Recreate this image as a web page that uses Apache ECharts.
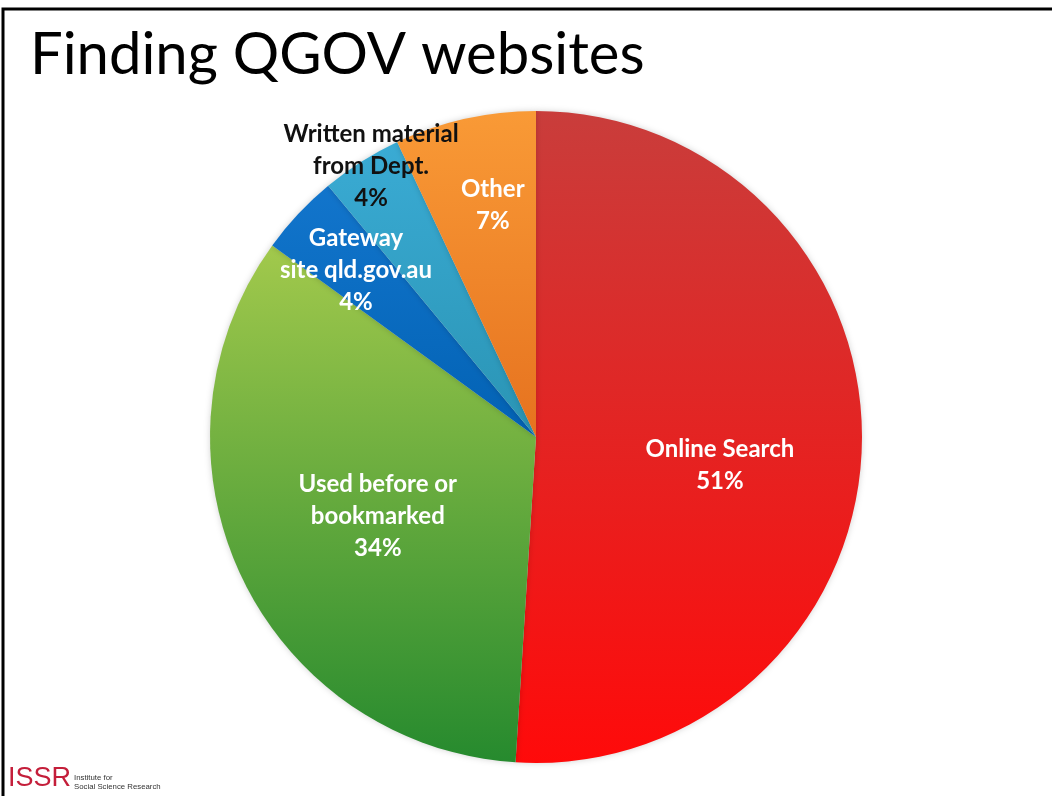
<!DOCTYPE html>
<html>
<head>
<meta charset="utf-8">
<script src="https://cdn.jsdelivr.net/npm/echarts@6/dist/echarts.min.js"></script>
<style>
  html, body { margin: 0; padding: 0; background: #fff; }
  #chart { width: 1052px; height: 796px; }
</style>
</head>
<body>
<div id="chart"></div>
<script>
// How visitors find QGOV websites (share of respondents, %)
const categories = [
  'Online Search',
  'Used before or\nbookmarked',
  'Gateway\nsite qld.gov.au',
  'Written material\nfrom Dept.',
  'Other'
];
const shares = [51, 34, 4, 4, 7];

// Slice fills: vertical gradient, top colour then bottom colour
const sliceColors = [
  ['#c93d3b', '#ff0a0a'],
  ['#a2c94c', '#268a2e'],
  ['#1275cc', '#0262b4'],
  ['#3aabd4', '#2a94b4'],
  ['#f99a36', '#e6721f']
];
const labelColors = ['#ffffff', '#ffffff', '#ffffff', '#111111', '#ffffff'];
const labelOffsets = [[18, 23], [-8, 9], [-59, -53], [-76, -131], [-7, -70]];

const pieData = categories.map((name, i) => ({
  name: name,
  value: shares[i],
  itemStyle: {
    color: {
      type: 'linear', x: 0, y: 0, x2: 0, y2: 1,
      colorStops: [
        { offset: 0, color: sliceColors[i][0] },
        { offset: 1, color: sliceColors[i][1] }
      ]
    }
  },
  label: { color: labelColors[i], offset: labelOffsets[i] }
}));

const chart = echarts.init(document.getElementById('chart'), null, { renderer: 'canvas' });
chart.setOption({
  backgroundColor: '#ffffff',
  animation: false,
  graphic: [
    {
      type: 'polyline',
      shape: { points: [[3, 796], [3, 9], [1052, 9]] },
      style: { stroke: '#000', lineWidth: 3, fill: null }
    },
    {
      type: 'text', left: 30, top: 26,
      style: {
        text: 'Finding QGOV websites',
        font: '400 58px Lato, "Open Sans", sans-serif',
        fill: '#000'
      }
    },
    {
      type: 'text', left: 8, top: 765,
      style: {
        text: 'ISSR',
        font: '300 27px "Liberation Sans", Arial, sans-serif',
        fill: '#c41e3a'
      }
    },
    {
      type: 'text', left: 74, top: 773,
      style: {
        text: 'Institute for\nSocial Science Research',
        font: '400 7.8px "Liberation Sans", Arial, sans-serif',
        lineHeight: 9,
        fill: '#333'
      }
    }
  ],
  series: [{
    type: 'pie',
    center: [536, 437],
    radius: [0, 326],
    startAngle: 90,
    clockwise: true,
    avoidLabelOverlap: false,
    itemStyle: {
      borderWidth: 0,
      shadowBlur: 6,
      shadowColor: 'rgba(0,0,0,0.18)'
    },
    label: {
      show: true,
      position: 'inside',
      formatter: '{b}\n{c}%',
      fontFamily: 'Lato, "Open Sans", sans-serif',
      fontWeight: 'bold',
      fontSize: 24,
      lineHeight: 32,
      align: 'center'
    },
    labelLine: { show: false },
    emphasis: { disabled: true },
    data: pieData
  }]
});
</script>
</body>
</html>
